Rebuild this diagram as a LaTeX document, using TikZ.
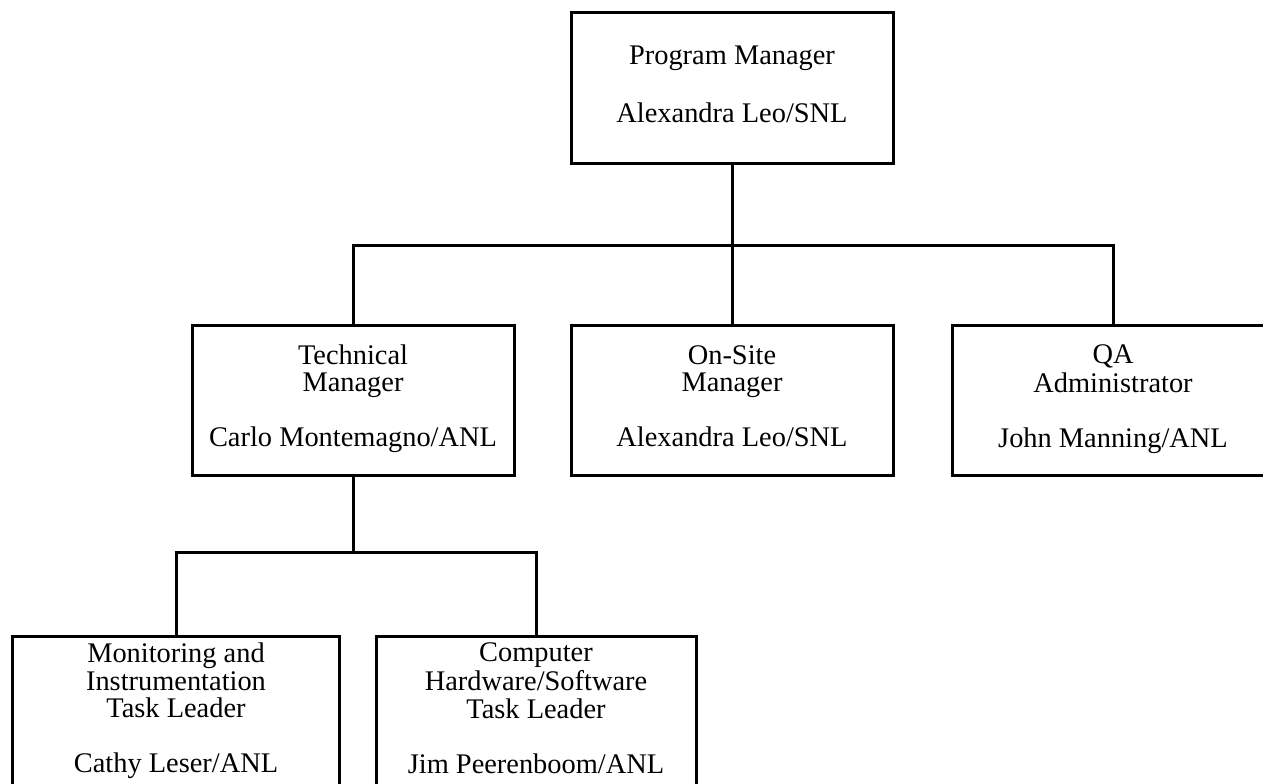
\documentclass[tikz,border=0pt]{standalone}
\usepackage{fontspec}
\setmainfont{Liberation Serif}
\begin{document}
\begin{tikzpicture}[x=1pt,y=-1pt,
  orgbox/.style={draw,line width=3pt,rectangle,inner sep=0pt,align=center,
    font=\fontsize{28.4}{27.5}\selectfont},
  link/.style={line width=3pt}]
\useasboundingbox (0,0) rectangle (1263,784);
\fill[white] (0,0) rectangle (1263,784);

% top level
\node[orgbox,minimum width=322,minimum height=151] (pm) at (732,88)
  {\strut Program Manager\\[30pt]Alexandra Leo/SNL\strut};

% second level
\node[orgbox,minimum width=322,minimum height=150] (tech) at (353,400)
  {\strut Technical\\Manager\\[27.5pt]Carlo Montemagno/ANL\strut};
\node[orgbox,minimum width=322,minimum height=150] (onsite) at (732,400)
  {\strut On-Site\\Manager\\[27.5pt]Alexandra Leo/SNL\strut};
\node[orgbox,minimum width=322,minimum height=150] (qa) at (1113,400)
  {\strut QA\\Administrator\\[27.5pt]John Manning/ANL\strut};

% third level
\node[orgbox,minimum width=327,minimum height=152] (mon) at (176,712)
  {\strut Monitoring and\\Instrumentation\\Task Leader\\[27.5pt]Cathy Leser/ANL\strut};
\node[orgbox,minimum width=320,minimum height=152] (comp) at (536,712)
  {\strut Computer\\Hardware/Software\\Task Leader\\[27.5pt]Jim Peerenboom/ANL\strut};

% connectors
\coordinate (bus) at (732,245);
\coordinate (bus2) at (353,552);
\draw[link] (pm.south) -- (onsite.north);
\draw[link] (tech.north) |- (bus) -| (qa.north);
\draw[link] (tech.south) -- (bus2);
\draw[link] (mon.north) |- (bus2) -| (comp.north);
\end{tikzpicture}
\end{document}
